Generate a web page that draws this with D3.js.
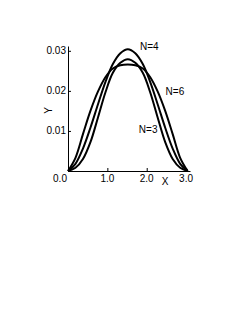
<!DOCTYPE html>
<html>
<head>
<meta charset="utf-8">
<script src="https://cdn.jsdelivr.net/npm/d3@7"></script>
<style>
  html, body { margin: 0; padding: 0; background: #fff; }
  svg { display: block; }
</style>
</head>
<body>
<div id="chart"></div>
<script>
// sample positions along X
const xs = [0, 0.19, 0.38, 0.57, 0.76, 0.95, 1.14, 1.33, 1.52,
  1.71, 1.90, 2.09, 2.28, 2.47, 2.66, 2.85, 3.04];

// Y values
const yN3 = [0, 0.0008, 0.0030, 0.0072, 0.0133, 0.0196, 0.0245, 0.0270, 0.0279,
  0.0270, 0.0245, 0.0196, 0.0133, 0.0072, 0.0030, 0.0008, 0];
const yN4 = [0, 0.0018, 0.0056, 0.0108, 0.0166, 0.0222, 0.0267, 0.0294, 0.0304,
  0.0294, 0.0267, 0.0222, 0.0166, 0.0108, 0.0056, 0.0018, 0];
const yN6 = [0, 0.0033, 0.0092, 0.0150, 0.0198, 0.0234, 0.0256, 0.0264, 0.0266,
  0.0264, 0.0256, 0.0234, 0.0198, 0.0150, 0.0092, 0.0033, 0];

const xTicks = [0, 1, 2, 3];
const xTickLabels = ['0.0', '1.0', '2.0', '3.0'];
const yTicks = [0.01, 0.02, 0.03];
const yTickLabels = ['0.01', '0.02', '0.03'];

const seriesLabels = [
  { name: 'N=4', x: 1.83, y: 0.0311 },
  { name: 'N=6', x: 2.48, y: 0.0198 },
  { name: 'N=3', x: 1.80, y: 0.0104 }
];

const width = 249, height = 323;
const font = '"Liberation Sans", Arial, sans-serif';

const svg = d3.select('#chart').append('svg')
  .attr('width', width)
  .attr('height', height)
  .attr('font-family', font)
  .attr('font-size', 10);

const x = d3.scaleLinear().domain([0, 3.1]).range([68, 190]);
const y = d3.scaleLinear().domain([0, 0.0312]).range([171, 46]);

// axes (ticks point inward, no labels from the axis itself)
const xAxis = d3.axisBottom(x)
  .tickValues(xTicks.slice(1))
  .tickSizeInner(-3)
  .tickSizeOuter(0)
  .tickFormat('');
const yAxis = d3.axisLeft(y)
  .tickValues(yTicks)
  .tickSizeInner(-3)
  .tickSizeOuter(0)
  .tickFormat('');

svg.append('g')
  .attr('transform', `translate(0,${y(0)})`)
  .call(xAxis)
  .call(g => g.select('.domain').attr('stroke', '#000'));

svg.append('g')
  .attr('transform', `translate(${x(0)},0)`)
  .call(yAxis)
  .call(g => g.select('.domain').attr('stroke', '#000'));

// tick labels
svg.append('g').selectAll('text')
  .data(xTicks)
  .join('text')
    .attr('x', (d, i) => i === 0 ? x(d) - 8 : x(d))
    .attr('y', y(0) + 11)
    .attr('text-anchor', 'middle')
    .text((d, i) => xTickLabels[i]);

svg.append('g').selectAll('text')
  .data(yTicks)
  .join('text')
    .attr('x', x(0) - 2)
    .attr('y', d => y(d))
    .attr('dy', '0.35em')
    .attr('text-anchor', 'end')
    .text((d, i) => yTickLabels[i]);

// axis titles
svg.append('text')
  .attr('x', 165)
  .attr('y', 185)
  .attr('text-anchor', 'middle')
  .text('X');

svg.append('text')
  .attr('transform', 'translate(52,110.5) rotate(-90)')
  .attr('text-anchor', 'middle')
  .text('Y');

// curves
const line = d3.line()
  .x((d, i) => x(xs[i]))
  .y(d => y(d))
  .curve(d3.curveCatmullRom);

svg.append('g')
  .attr('fill', 'none')
  .attr('stroke', '#000')
  .attr('stroke-width', 2)
  .selectAll('path')
  .data([yN3, yN4, yN6])
  .join('path')
    .attr('d', line);

svg.append('g').selectAll('text')
  .data(seriesLabels)
  .join('text')
    .attr('x', d => x(d.x))
    .attr('y', d => y(d.y))
    .attr('dy', '0.35em')
    .text(d => d.name);
</script>
</body>
</html>
